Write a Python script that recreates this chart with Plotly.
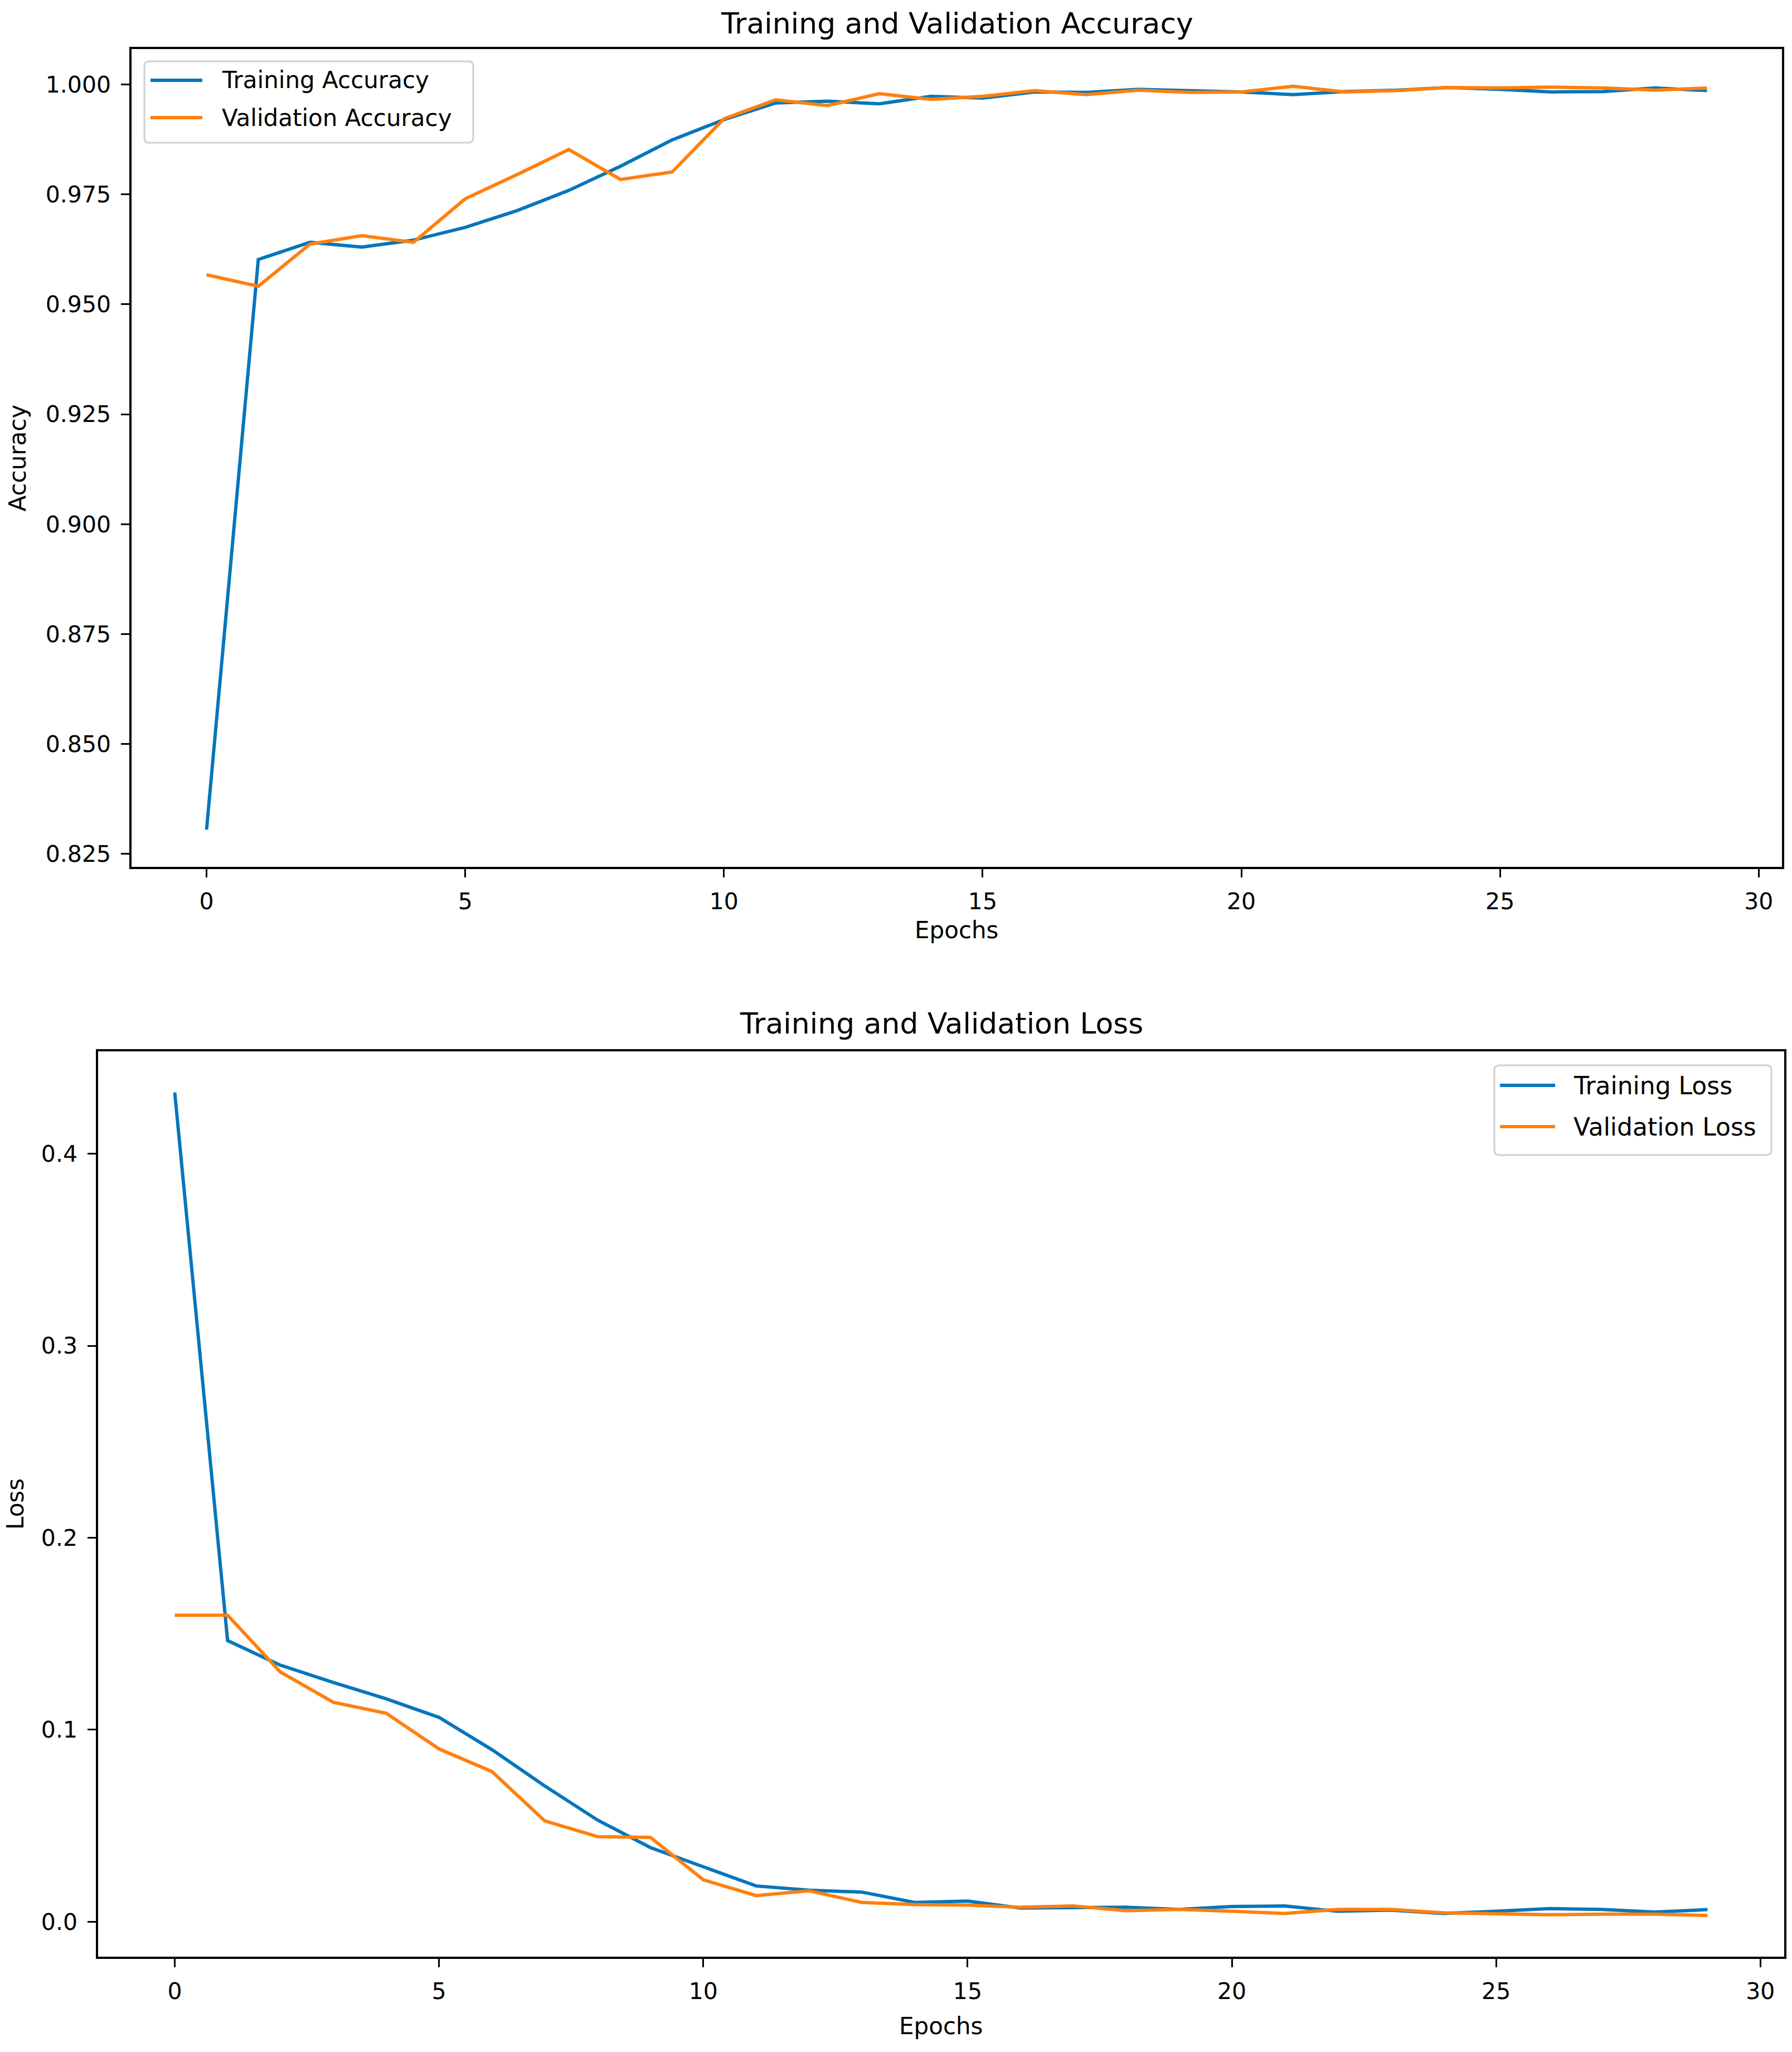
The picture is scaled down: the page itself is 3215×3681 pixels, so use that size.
import plotly.graph_objects as go

# ---------------- data ----------------
epochs = list(range(30))

train_acc = [0.8305, 0.9602, 0.9641, 0.9630, 0.9646, 0.9675, 0.9713, 0.9759, 0.9814, 0.9874,
             0.9920, 0.9958, 0.9962, 0.9956, 0.9973, 0.9969, 0.9983, 0.9982, 0.9989, 0.9986,
             0.9983, 0.9977, 0.9984, 0.9987, 0.9993, 0.9989, 0.9983, 0.9984, 0.9992, 0.9986]
val_acc = [0.9567, 0.9541, 0.9637, 0.9656, 0.9641, 0.9740, 0.9795, 0.9852, 0.9784, 0.9801,
           0.9922, 0.9965, 0.9952, 0.9979, 0.9966, 0.9973, 0.9986, 0.9977, 0.9987, 0.9982,
           0.9983, 0.9996, 0.9983, 0.9986, 0.9993, 0.9992, 0.9994, 0.9992, 0.9987, 0.9992]

train_loss = [0.4319, 0.1464, 0.1336, 0.1246, 0.1161, 0.1064, 0.0896, 0.0707, 0.0529, 0.0386,
              0.0286, 0.0186, 0.0164, 0.0154, 0.0100, 0.0107, 0.0071, 0.0071, 0.0075, 0.0064,
              0.0079, 0.0082, 0.0054, 0.0060, 0.0043, 0.0054, 0.0068, 0.0064, 0.0050, 0.0063]
val_loss = [0.1596, 0.1596, 0.1300, 0.1143, 0.1086, 0.0900, 0.0782, 0.0525, 0.0443, 0.0439,
            0.0218, 0.0136, 0.0161, 0.0100, 0.0089, 0.0086, 0.0075, 0.0082, 0.0057, 0.0064,
            0.0054, 0.0043, 0.0064, 0.0064, 0.0046, 0.0039, 0.0036, 0.0039, 0.0039, 0.0032]

acc_names = ["Training Accuracy", "Validation Accuracy"]
loss_names = ["Training Loss", "Validation Loss"]
titles = ["Training and Validation Accuracy", "Training and Validation Loss"]
x_label = "Epochs"
y_labels = ["Accuracy", "Loss"]
acc_ticks = [0.825, 0.850, 0.875, 0.900, 0.925, 0.950, 0.975, 1.000]
loss_ticks = [0.0, 0.1, 0.2, 0.3, 0.4]
x_ticks = [0, 5, 10, 15, 20, 25, 30]

# ---------------- style ----------------
W, H = 3215, 3681
BLUE = "#0676BC"
ORANGE = "#FF800E"
FONT = "DejaVu Sans"
LW = 6


def px(x):
    return x / W


def py(y):
    return 1 - y / H


def rng(vals, pad=0.05):
    lo, hi = min(vals), max(vals)
    s = hi - lo
    return [lo - pad * s, hi + pad * s]


fig = go.Figure()

fig.add_trace(go.Scatter(x=epochs, y=train_acc, name=acc_names[0], mode="lines",
                         line=dict(color=BLUE, width=LW), xaxis="x", yaxis="y", showlegend=False))
fig.add_trace(go.Scatter(x=epochs, y=val_acc, name=acc_names[1], mode="lines",
                         line=dict(color=ORANGE, width=LW), xaxis="x", yaxis="y", showlegend=False))
fig.add_trace(go.Scatter(x=epochs, y=train_loss, name=loss_names[0], mode="lines",
                         line=dict(color=BLUE, width=LW), xaxis="x2", yaxis="y2", showlegend=False))
fig.add_trace(go.Scatter(x=epochs, y=val_loss, name=loss_names[1], mode="lines",
                         line=dict(color=ORANGE, width=LW), xaxis="x2", yaxis="y2", showlegend=False))

axis_common = dict(showline=True, mirror=True, linecolor="black", linewidth=3.5,
                   ticks="outside", ticklen=15, tickwidth=3, tickcolor="black",
                   showgrid=False, zeroline=False, automargin=False,
                   tickfont=dict(family=FONT, size=41, color="black"))

# top axes geometry (pixels)
t_l, t_r, t_t, t_b = 236, 3197, 88, 1555
# bottom axes geometry
b_l, b_r, b_t, b_b = 176, 3201, 1886, 3510

xr = [-1.45, 30.45]

fig.update_layout(
    width=W, height=H, autosize=False,
    margin=dict(l=0, r=0, t=0, b=0),
    paper_bgcolor="white", plot_bgcolor="white",
    showlegend=False,
    xaxis=dict(domain=[px(t_l), px(t_r)], anchor="y", range=xr, tickvals=x_ticks,
               ticklabelstandoff=8, **axis_common),
    yaxis=dict(domain=[py(t_b), py(t_t)], anchor="x", range=rng(train_acc + val_acc),
               tickvals=acc_ticks, tickformat=".3f", ticklabelstandoff=10, **axis_common),
    xaxis2=dict(domain=[px(b_l), px(b_r)], anchor="y2", range=xr, tickvals=x_ticks,
                ticklabelstandoff=8, **axis_common),
    yaxis2=dict(domain=[py(b_b), py(b_t)], anchor="x2", range=rng(train_loss + val_loss),
                tickvals=loss_ticks, tickformat=".1f", ticklabelstandoff=10, **axis_common),
)

annotations = []
# titles
annotations.append(dict(text=titles[0], x=px((t_l + t_r) / 2), y=py(42), xref="paper", yref="paper",
                        showarrow=False, xanchor="center", yanchor="middle",
                        font=dict(family=FONT, size=52, color="black")))
annotations.append(dict(text=titles[1], x=px((b_l + b_r) / 2), y=py(1836), xref="paper", yref="paper",
                        showarrow=False, xanchor="center", yanchor="middle",
                        font=dict(family=FONT, size=52, color="black")))
# axis labels
annotations.append(dict(text=x_label, x=px((t_l + t_r) / 2), y=py(1668), xref="paper", yref="paper",
                        showarrow=False, xanchor="center", yanchor="middle",
                        font=dict(family=FONT, size=42, color="black")))
annotations.append(dict(text=x_label, x=px((b_l + b_r) / 2), y=py(3634), xref="paper", yref="paper",
                        showarrow=False, xanchor="center", yanchor="middle",
                        font=dict(family=FONT, size=42, color="black")))
annotations.append(dict(text=y_labels[0], x=px(31), y=py((t_t + t_b) / 2), xref="paper", yref="paper",
                        showarrow=False, xanchor="center", yanchor="middle", textangle=-90,
                        font=dict(family=FONT, size=42, color="black")))
annotations.append(dict(text=y_labels[1], x=px(27), y=py((b_t + b_b) / 2), xref="paper", yref="paper",
                        showarrow=False, xanchor="center", yanchor="middle", textangle=-90,
                        font=dict(family=FONT, size=42, color="black")))

shapes = []


def rounded_box(x0, y0, x1, y1, r=9):
    rx, ry = r / W, r / H
    X0, X1 = px(x0), px(x1)
    Y0, Y1 = py(y0), py(y1)  # Y0 top, Y1 bottom
    p = (f"M {X0 + rx},{Y0} L {X1 - rx},{Y0} Q {X1},{Y0} {X1},{Y0 - ry} "
         f"L {X1},{Y1 + ry} Q {X1},{Y1} {X1 - rx},{Y1} "
         f"L {X0 + rx},{Y1} Q {X0},{Y1} {X0},{Y1 + ry} "
         f"L {X0},{Y0 - ry} Q {X0},{Y0} {X0 + rx},{Y0} Z")
    return dict(type="path", path=p, xref="paper", yref="paper",
                line=dict(color="#d0d0d0", width=3), fillcolor="rgba(255,255,255,0.8)", layer="above")


def legend(box, entries, colors, line_x, text_x, ys, size):
    shapes.append(rounded_box(*box))
    for name, col, yy in zip(entries, colors, ys):
        shapes.append(dict(type="line", xref="paper", yref="paper",
                           x0=px(line_x[0]), x1=px(line_x[1]), y0=py(yy), y1=py(yy),
                           line=dict(color=col, width=LW), layer="above"))
        annotations.append(dict(text=name, x=px(text_x), y=py(yy), xref="paper", yref="paper",
                                showarrow=False, xanchor="left", yanchor="middle",
                                font=dict(family=FONT, size=size, color="black")))


legend((259, 110, 849, 256), acc_names, [BLUE, ORANGE], (270, 363), 396, [144, 211], 42)
legend((2681, 1911, 3178, 2072), loss_names, [BLUE, ORANGE], (2691, 2790), 2821, [1947, 2021], 44)

fig.update_layout(annotations=annotations, shapes=shapes)

fig.write_html("out.html",
               config={"displayModeBar": False},
               post_script="document.body.style.margin='0';document.body.style.padding='0';"
                           "document.body.style.overflow='hidden';")
